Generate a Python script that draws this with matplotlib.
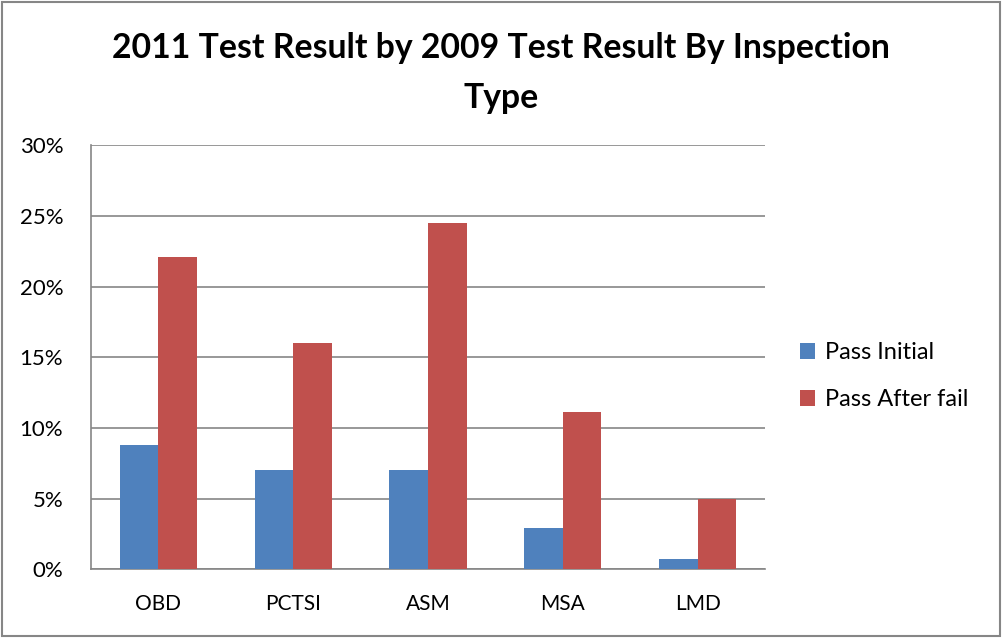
import matplotlib.pyplot as plt
import numpy as np
from matplotlib.patches import Rectangle
from matplotlib.ticker import PercentFormatter

categories = ['OBD', 'PCTSI', 'ASM', 'MSA', 'LMD']
pass_initial = [8.8, 7.0, 7.0, 2.95, 0.75]
pass_after_fail = [22.1, 16.0, 24.5, 11.1, 4.95]
series_names = ['Pass Initial', 'Pass After fail']

plt.rcParams['font.family'] = ['Lato', 'DejaVu Sans']

fig = plt.figure(figsize=(10.02, 6.38), dpi=100)
ax = fig.add_axes([0.0908, 0.1077, 0.6727, 0.6646])

x = np.arange(len(categories))
w = 1 / 3.5
ax.bar(x - w / 2, pass_initial, w, color='#4F81BD', label=series_names[0], zorder=3)
ax.bar(x + w / 2, pass_after_fail, w, color='#C0504D', label=series_names[1], zorder=3)

ax.set_xlim(-0.5, len(categories) - 0.5)
ax.set_ylim(0, 30)
ax.set_yticks(np.arange(0, 31, 5))
ax.yaxis.set_major_formatter(PercentFormatter(decimals=0))
ax.set_xticks(x)
ax.set_xticklabels(categories)
ax.tick_params(axis='both', length=0, colors='black')
ax.tick_params(axis='y', pad=20, labelsize=16)
ax.tick_params(axis='x', pad=18, labelsize=15)
ax.grid(axis='y', color='#868686', linewidth=1.2, zorder=0)

for side in ['top', 'right']:
    ax.spines[side].set_visible(False)
ax.spines['left'].set_color('#868686')
ax.spines['bottom'].set_color('#868686')
ax.spines['left'].set_linewidth(1.2)
ax.spines['bottom'].set_linewidth(1.2)

fig.text(0.5, 0.95, '2011 Test Result by 2009 Test Result By Inspection\nType',
         ha='center', va='top', fontsize=24.3, fontweight='bold', linespacing=1.7)

fig.legend(loc='upper left', bbox_to_anchor=(0.789, 0.478), frameon=False,
           fontsize=17, handlelength=0.65, handleheight=0.65, handletextpad=0.4,
           labelspacing=1.1, borderaxespad=0)

fig.patches.append(Rectangle((0.002, 0.003), 0.996, 0.994, transform=fig.transFigure,
                             fill=False, edgecolor='#868686', linewidth=1.5))

fig.savefig('out.png', dpi=100)
